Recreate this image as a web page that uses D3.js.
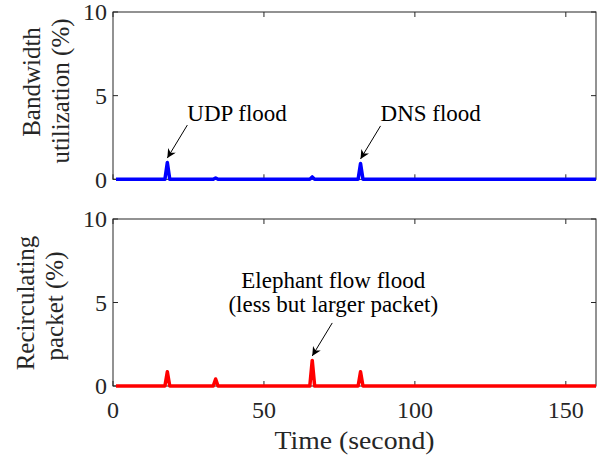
<!DOCTYPE html>
<html><head><meta charset="utf-8">
<script src="https://cdn.jsdelivr.net/npm/d3@7"></script>
<style>body{margin:0;background:#fff}</style>
</head><body><svg id="c" width="603" height="458" font-family="Liberation Serif"></svg>
<script>
const time = [1, 17.2, 18, 18.8, 33.2, 34, 34.8, 65.2, 66, 66.8, 81.2, 82, 82.8, 160];
const bandwidth = [0, 0, 1.0, 0, 0, 0.08, 0, 0, 0.14, 0, 0, 0.95, 0, 0];
const recirculating = [0, 0, 0.85, 0, 0, 0.42, 0, 0, 1.53, 0, 0, 0.85, 0, 0];
const xTicks = [0, 50, 100, 150];
const yTicks = [0, 5, 10];
const annotations = [
  {panel: 0, lines: ["UDP flood"], t: 18, v: 1.0},
  {panel: 0, lines: ["DNS flood"], t: 82, v: 0.95},
  {panel: 1, lines: ["Elephant flow flood", "(less but larger packet)"], t: 66, v: 1.53}
];
const panels = [
  {values: bandwidth, color: "#0000ff", label: ["Bandwidth", "utilization (%)"], top: 12, bottom: 179.3},
  {values: recirculating, color: "#ff0000", label: ["Recirculating", "packet (%)"], top: 219, bottom: 386}
];

const svg = d3.select("#c");
const x = d3.scaleLinear().domain([0, 160]).range([113, 596]);
const axisColor = "#262626";
const txtColor = "#262626";

svg.append("defs").append("marker").attr("id", "ah")
  .attr("viewBox", "0 0 10 10").attr("refX", 10).attr("refY", 5)
  .attr("markerWidth", 11).attr("markerHeight", 9).attr("markerUnits", "userSpaceOnUse")
  .attr("orient", "auto")
  .append("path").attr("d", "M0,0 L10,5 L0,10 L3,5 Z").attr("fill", "#000");

const labelPos = [
  [{x: 40, y: 82}, {x: 69, y: 91}],
  [{x: 34, y: 303}, {x: 63, y: 306}]
];

panels.forEach((p, i) => {
  const y = d3.scaleLinear().domain([0, 10]).range([p.bottom, p.top]);
  const g = svg.append("g");
  g.append("rect").attr("x", x(0)).attr("y", p.top).attr("width", x(160) - x(0)).attr("height", p.bottom - p.top)
    .attr("fill", "none").attr("stroke", axisColor).attr("stroke-width", 1);
  const tl = 5;
  xTicks.forEach(t => {
    g.append("line").attr("x1", x(t)).attr("x2", x(t)).attr("y1", p.bottom).attr("y2", p.bottom - tl).attr("stroke", axisColor);
    g.append("line").attr("x1", x(t)).attr("x2", x(t)).attr("y1", p.top).attr("y2", p.top + tl).attr("stroke", axisColor);
  });
  yTicks.forEach(v => {
    g.append("line").attr("x1", x(0)).attr("x2", x(0) + tl).attr("y1", y(v)).attr("y2", y(v)).attr("stroke", axisColor);
    g.append("line").attr("x1", x(160)).attr("x2", x(160) - tl).attr("y1", y(v)).attr("y2", y(v)).attr("stroke", axisColor);
    g.append("text").attr("x", x(0) - 6).attr("y", y(v)).attr("dy", "0.35em").attr("text-anchor", "end")
      .attr("font-size", 24).attr("fill", txtColor).text(v);
  });
  const line = d3.line().x((d, j) => x(time[j])).y(d => y(d));
  g.append("path").attr("d", line(p.values)).attr("fill", "none").attr("stroke", p.color)
    .attr("stroke-width", 3.5).attr("stroke-linejoin", "round");
  p.label.forEach((s, k) => {
    const lp = labelPos[i][k];
    g.append("text").attr("transform", `translate(${lp.x},${lp.y}) rotate(-90)`)
      .attr("text-anchor", "middle").attr("font-size", 25).attr("fill", txtColor).text(s);
  });
  p.y = y;
});

xTicks.forEach(t => {
  svg.append("text").attr("x", x(t)).attr("y", 418).attr("text-anchor", "middle").attr("font-size", 24)
    .attr("fill", txtColor).text(t);
});
svg.append("text").attr("x", (x(0) + x(160)) / 2).attr("y", 449).attr("text-anchor", "middle")
  .attr("font-size", 25).attr("textLength", 160).attr("lengthAdjust", "spacingAndGlyphs")
  .attr("fill", txtColor).text("Time (second)");

annotations.forEach(a => {
  const y = panels[a.panel].y;
  const tx = x(a.t), ty = y(a.v) - 4.5;
  const sx = tx + 20, sy = ty - 33;
  svg.append("line").attr("x1", sx).attr("y1", sy).attr("x2", tx).attr("y2", ty)
    .attr("stroke", "#000").attr("stroke-width", 1).attr("marker-end", "url(#ah)");
  const n = a.lines.length;
  if (n === 1) {
    svg.append("text").attr("x", sx).attr("y", sy - 4.5).attr("font-size", 23).attr("fill", "#000").text(a.lines[0]);
  } else {
    a.lines.forEach((s, k) => {
      svg.append("text").attr("x", sx + 1).attr("y", sy - 11 - (n - 1 - k) * 24)
        .attr("text-anchor", "middle").attr("font-size", 23).attr("fill", "#000").text(s);
    });
  }
});
</script></body></html>
